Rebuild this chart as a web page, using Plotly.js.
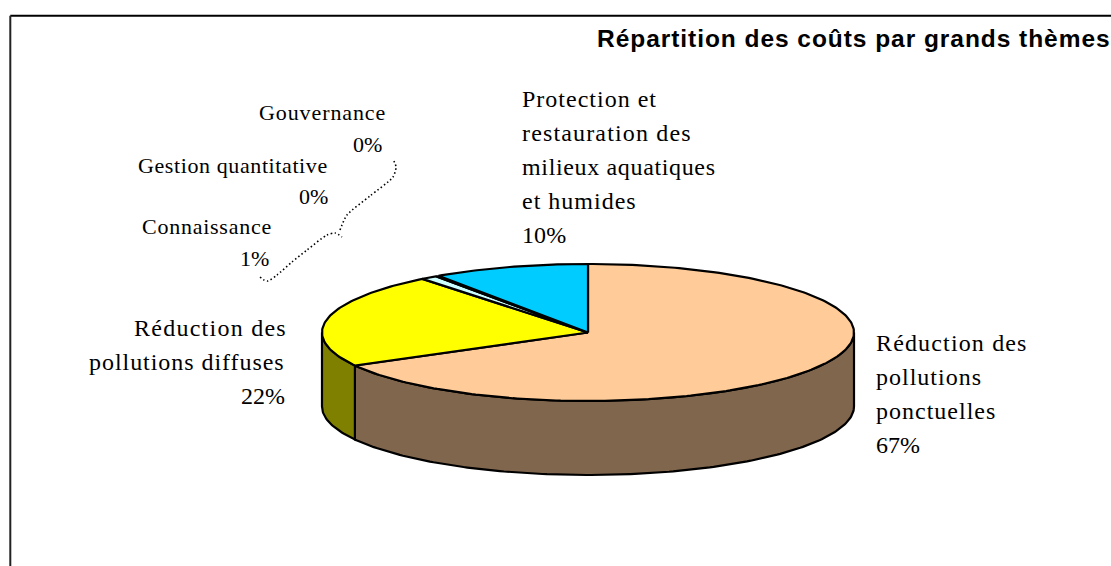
<!DOCTYPE html>
<html><head><meta charset="utf-8">
<script src="https://cdn.plot.ly/plotly-3.0.1.min.js"></script>
<style>html,body{margin:0;padding:0;background:#fff}#c{width:1111px;height:566px}</style>
</head><body><div id="c"></div>
<script>
// Data (share of cost, %), clockwise from 12 o'clock
const categories = ["Réduction des pollutions ponctuelles","Réduction des pollutions diffuses","Connaissance","Gestion quantitative","Gouvernance","Protection et restauration des milieux aquatiques et humides"];
const shares = [67.0, 22.3, 1.0, 0.1, 0.1, 9.5];
const titleText = "Répartition des coûts par grands thèmes";
const labelTexts = ["Gouvernance","0%","Gestion quantitative","0%","Connaissance","1%",
  "Protection et","restauration des","milieux aquatiques","et humides","10%",
  "Réduction des","pollutions diffuses","22%",
  "Réduction des","pollutions","ponctuelles","67%"];

// Styling and placement (separate from the data)
const topColors = ["#FFCC99","#FFFF00","#CCFFFF","#FFFFFF","#FFFFFF","#00CCFF"];
const sideColors = ["#80664D","#808000","#668080","#808080","#808080","#006680"];
const labelX = [386,383,328,329,272,270, 522,522,522,522,522, 287,285,285, 876,876,876,876];
const labelY = [112,144,165,196,226,258, 99,133,167,201,235, 328,362,396, 343,377,411,445];
const labelAnchor = ["right","right","right","right","right","right","left","left","left","left","left","right","right","right","left","left","left","left"];
const labelSize = [22,22,22,22,22,22, 24,24,24,24,24, 24,24,24, 24,24,24,24];
const labelSpacing = [0.9,0.1,0.6,0.1,0.75,0.1, 1.0,1.15,0.65,1.0,0.1, 1.25,0.95,0, 1.15,1.0,1.0,0];
const leaderX = [260,264,268,277,292,307,327,335,342,null,340,347,370,393,396,393];
const leaderY = [277,280,281,275,262,250,235,233,237,null,230,215,196,177,167,159];

const cx=588, cy=332.5, rx=266, ry=68.5, depth=74;
const total = shares.reduce((a,b)=>a+b,0);
const traces=[];
function pt(t){return [cx+rx*Math.sin(t), cy-ry*Math.cos(t)];}
function arc(a,b){const o=[];const n=Math.max(2,Math.ceil(Math.abs(b-a)*60));for(let i=0;i<=n;i++){o.push(pt(a+(b-a)*i/n));}return o;}
function poly(points,fill){
  traces.push({type:"scatter",mode:"lines",x:points.map(p=>p[0]),y:points.map(p=>p[1]),fill:"toself",fillcolor:fill,
    line:{color:"#000",width:2.2,shape:"linear"},hoverinfo:"skip",showlegend:false});
}
let acc=0; const bounds=shares.map(v=>{const a=acc/total*2*Math.PI;acc+=v;return [a,acc/total*2*Math.PI];});
bounds.forEach((b,i)=>{
  const a0=Math.max(b[0],Math.PI/2), a1=Math.min(b[1],1.5*Math.PI);
  if(a1>a0){
    const top=arc(a0,a1); const bot=top.slice().reverse().map(p=>[p[0],p[1]+depth]);
    const pts=top.concat(bot); pts.push(top[0]); poly(pts,sideColors[i]);
  }
});
bounds.forEach((b,i)=>{
  const pts=[[cx,cy]].concat(arc(b[0],b[1])); pts.push([cx,cy]); poly(pts,topColors[i]);
});
traces.push({type:"scatter",mode:"lines",x:leaderX,y:leaderY,line:{color:"#000",width:1.6,dash:"1.5px,2.5px",shape:"spline",smoothing:0.7},hoverinfo:"skip",showlegend:false,connectgaps:false});

const annotations=labelTexts.map((t,i)=>({x:labelX[i],y:labelY[i],xref:"x",yref:"y",
  text:'<span style="letter-spacing:'+labelSpacing[i]+'px">'+t+'</span>',showarrow:false,xanchor:labelAnchor[i],yanchor:"middle",
  font:{family:"Liberation Serif",size:labelSize[i],color:"#000"},borderpad:0,borderwidth:0}));
annotations.push({x:1110,y:38,xref:"x",yref:"y",xshift:2,text:'<span style="letter-spacing:0.95px"><b>'+titleText+'</b></span>',showarrow:false,xanchor:"right",yanchor:"middle",
  font:{family:"Liberation Sans",size:24.5,color:"#000"},borderpad:0});

Plotly.newPlot("c",traces,{
  width:1111,height:566,margin:{l:0,r:0,t:0,b:0},paper_bgcolor:"#fff",plot_bgcolor:"#fff",showlegend:false,
  xaxis:{range:[0,1111],visible:false,fixedrange:true},
  yaxis:{range:[566,0],visible:false,fixedrange:true},
  annotations:annotations,
  shapes:[
    {type:"line",xref:"x",yref:"y",x0:10.3,y0:15.7,x1:1111,y1:15.7,line:{color:"#000",width:2}},
    {type:"line",xref:"x",yref:"y",x0:10.3,y0:15.7,x1:10.3,y1:566,line:{color:"#222",width:2}}
  ]
},{displayModeBar:false,staticPlot:true});
</script></body></html>
